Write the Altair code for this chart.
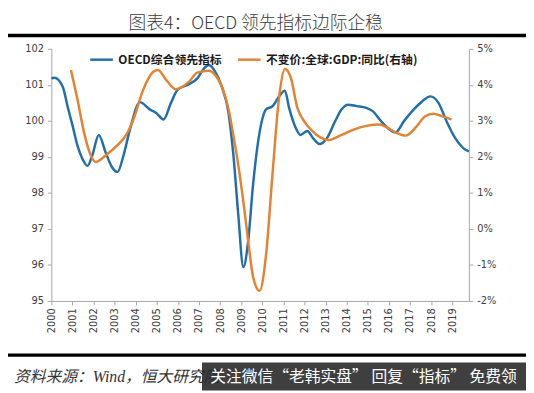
import altair as alt
import pandas as pd

# ---- data ----
oecd_year = [2000.0, 2000.15, 2000.54, 2000.77, 2001.01, 2001.24, 2001.47, 2001.71, 2001.94,
             2002.25, 2002.57, 2002.87, 2003.14, 2003.42, 2003.73, 2004.2, 2004.66, 2004.97,
             2005.32, 2005.67, 2005.98, 2006.53, 2006.92, 2007.23, 2007.46, 2007.77, 2008.08,
             2008.4, 2008.63, 2008.86, 2009.1, 2009.33, 2009.56, 2009.87, 2010.18, 2010.49,
             2010.8, 2011.07, 2011.27, 2011.58, 2011.81, 2012.13, 2012.43, 2012.71, 2013.06,
             2013.45, 2013.76, 2014.07, 2014.46, 2014.93, 2015.23, 2015.63, 2016.01, 2016.32,
             2016.71, 2017.18, 2017.57, 2017.96, 2018.35, 2018.73, 2019.12, 2019.51, 2019.79]
oecd_value = [101.18, 101.2, 100.95, 100.4, 99.86, 99.31, 98.95, 98.75, 99.04,
              99.61, 99.13, 98.72, 98.58, 99.04, 99.77, 100.52, 100.32, 100.22,
              100.04, 100.5, 100.86, 101.02, 101.18, 101.45, 101.55, 101.36, 100.95,
              100.22, 99.04, 97.4, 95.94, 96.67, 98.22, 99.68, 100.32, 100.41,
              100.68, 100.84, 100.36, 99.81, 99.61, 99.72, 99.5, 99.36, 99.52,
              99.99, 100.32, 100.45, 100.41, 100.36, 100.27, 99.99, 99.77, 99.68,
              99.99, 100.32, 100.54, 100.68, 100.5, 99.99, 99.54, 99.25, 99.15]

gdp_year = [2000.93, 2001.24, 2001.55, 2001.87, 2002.1, 2002.57, 2003.11, 2003.57, 2003.89,
            2004.35, 2004.82, 2005.05, 2005.44, 2005.9, 2006.53, 2006.92, 2007.46, 2007.77,
            2008.08, 2008.4, 2008.63, 2008.86, 2009.1, 2009.33, 2009.56, 2009.87, 2010.18,
            2010.49, 2010.8, 2011.07, 2011.35, 2011.66, 2011.97, 2012.36, 2012.75, 2013.14,
            2013.68, 2014.3, 2014.93, 2015.55, 2015.93, 2016.32, 2016.79, 2017.26, 2017.72,
            2018.11, 2018.5, 2018.97]
gdp_value = [4.41, 3.59, 2.68, 2.04, 1.86, 2.04, 2.31, 2.63, 3.04,
             3.86, 4.36, 4.41, 4.14, 3.88, 4.09, 4.34, 4.39, 4.27,
             3.95, 3.32, 2.59, 1.77, 0.76, -0.33, -1.33, -1.72, -0.7,
             1.58, 3.68, 4.44, 4.2, 3.36, 3.0, 2.72, 2.54, 2.47,
             2.59, 2.75, 2.86, 2.9, 2.81, 2.68, 2.59, 2.81, 3.13,
             3.2, 3.13, 3.04]

year_ticks = list(range(2000, 2020))
left_ticks = [95, 96, 97, 98, 99, 100, 101, 102]
right_ticks = [-2, -1, 0, 1, 2, 3, 4, 5]

series_names = ["OECD综合领先指标", "不变价:全球:GDP:同比(右轴)"]
title_text = "图表4：OECD 领先指标边际企稳"
source_text = "资料来源：Wind，恒大研究院"
watermark_text = "关注微信“老韩实盘” 回复“指标” 免费领"

BLUE = "#1f6fae"
ORANGE = "#e5822d"
AXIS_GREY = "#a6a6a6"
LABEL = "#404040"
NUM_FONT = "DejaVu Sans"
CJK = "Noto Sans CJK SC"

df_oecd = pd.DataFrame({"year": oecd_year, "value": oecd_value, "series": series_names[0]})
df_gdp = pd.DataFrame({"year": gdp_year, "value": gdp_value, "series": series_names[1]})

x_enc = alt.X(
    "year:Q",
    scale=alt.Scale(domain=[2000, 2019.79], nice=False, zero=False),
    axis=alt.Axis(values=year_ticks, format="d", labelAngle=270, title=None, grid=False,
                  domainColor=AXIS_GREY, tickColor=AXIS_GREY, tickSize=4,
                  labelColor=LABEL, labelFont=NUM_FONT, labelFontSize=10, labelPadding=3,
                  labelOverlap=False),
)

color_enc = alt.Color(
    "series:N",
    scale=alt.Scale(domain=series_names, range=[BLUE, ORANGE]),
    legend=alt.Legend(title=None, orient="none", legendX=38, legendY=-2, direction="horizontal",
                      symbolType="stroke", symbolSize=529, symbolStrokeWidth=2.5,
                      labelFont=CJK, labelFontWeight="bold", labelFontSize=12,
                      labelColor="#1a1a1a", columnPadding=10, labelLimit=400, padding=0),
)

blue = alt.Chart(df_oecd).mark_line(interpolate="monotone", strokeWidth=2.5).encode(
    x=x_enc,
    y=alt.Y("value:Q", scale=alt.Scale(domain=[95, 102], nice=False, zero=False),
            axis=alt.Axis(orient="left", values=left_ticks, title=None, grid=False,
                          domainColor=AXIS_GREY, tickColor=AXIS_GREY, tickSize=4,
                          labelColor=LABEL, labelFont=NUM_FONT, labelFontSize=10, labelPadding=4)),
    color=color_enc,
)

orange = alt.Chart(df_gdp).mark_line(interpolate="monotone", strokeWidth=2.5).encode(
    x=x_enc,
    y=alt.Y("value:Q", scale=alt.Scale(domain=[-2, 5], nice=False, zero=False),
            axis=alt.Axis(orient="right", values=right_ticks, title=None, grid=False,
                          domainColor=AXIS_GREY, tickColor=AXIS_GREY, tickSize=4,
                          labelColor=LABEL, labelFont=NUM_FONT, labelFontSize=10, labelPadding=4,
                          labelExpr="datum.value + '%'")),
    color=color_enc,
)

one = pd.DataFrame({"t": [0]})

title = alt.Chart(pd.DataFrame({"t": [title_text]})).mark_text(
    font=CJK, fontSize=18, color="#3a3a3a", baseline="top", align="center", fontWeight=300
).encode(text="t:N", x=alt.value(207.5), y=alt.value(-34))

top_rule = alt.Chart(one).mark_rule(color="black", strokeWidth=3.5).encode(
    x=alt.value(-44), x2=alt.value(482), y=alt.value(-13.5))
bottom_rule = alt.Chart(one).mark_rule(color="black", strokeWidth=3.5).encode(
    x=alt.value(-44), x2=alt.value(482), y=alt.value(311))

source = alt.Chart(pd.DataFrame({"t": [source_text]})).mark_text(
    font="Liberation Serif, " + CJK, fontSize=16, fontStyle="italic", color="#333333",
    baseline="middle", align="left"
).encode(text="t:N", x=alt.value(-38), y=alt.value(333.5))

wm_box = alt.Chart(one).mark_rect(color="#2a2a2a", opacity=0.9).encode(
    x=alt.value(153), x2=alt.value(482), y=alt.value(318.5), y2=alt.value(347))
wm_text = alt.Chart(pd.DataFrame({"t": [watermark_text]})).mark_text(
    font=CJK, fontSize=16, color="white", baseline="middle", align="center"
).encode(text="t:N", x=alt.value(317), y=alt.value(333))

chart = alt.layer(
    blue, orange, title, top_rule, bottom_rule, source, wm_box, wm_text
).resolve_scale(y="independent", color="shared").properties(
    width=424, height=256,
    autosize=alt.AutoSizeParams(type="none"),
    padding={"left": 44, "top": 38.5, "right": 58, "bottom": 90},
    background="white",
).configure_view(strokeOpacity=0)

chart.save("out.html", embed_options={"renderer": "svg", "actions": False})
